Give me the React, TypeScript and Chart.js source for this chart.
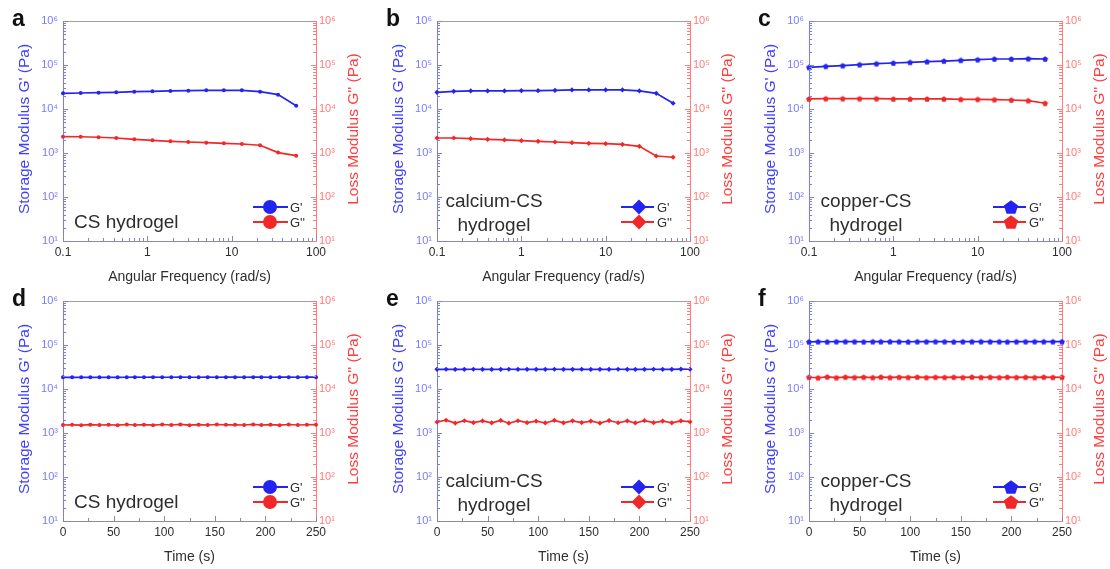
import React, { useEffect, useRef } from "react";
import { Chart, registerables } from "chart.js";

Chart.register(...registerables);

const FONT = "'Liberation Sans', Arial, Helvetica, sans-serif";
const BLUE = "#2424f2";
const RED = "#f22828";
const BLUE_AX = "#7a7aff";
const RED_AX = "#ff7a7a";
const BLUE_TITLE = "#3e3eff";
const RED_TITLE = "#ff3e3e";
const TEXT = "#2e2e2e";

// ---------- data ----------
const freqA = [0.1, 0.162, 0.264, 0.428, 0.7, 1.15, 1.88, 3.06, 5.0, 8.07, 13.2, 21.7, 35.5, 58.2];
const gPrimeA = [22700, 23100, 23500, 23900, 24800, 25200, 25700, 26100, 26600, 26600, 26600, 24800, 21200, 11900];
const gDoubleA = [2350, 2340, 2280, 2190, 2050, 1940, 1840, 1780, 1720, 1660, 1600, 1500, 1020, 870];

const freqBC = [0.1, 0.158, 0.251, 0.398, 0.631, 1, 1.58, 2.51, 3.98, 6.31, 10, 15.8, 25.1, 39.8, 63.1];
const gPrimeB = [23900, 25200, 25700, 25700, 25700, 26100, 26100, 26600, 27100, 27100, 27100, 27100, 25700, 22700, 13500];
const gDoubleB = [2190, 2190, 2120, 2050, 1980, 1910, 1840, 1780, 1720, 1660, 1630, 1570, 1420, 855, 800];
const gPrimeC = [88500, 93300, 96600, 101800, 107000, 111000, 115000, 119000, 123000, 128000, 132000, 137000, 137000, 139000, 137000];
const gDoubleC = [16900, 17200, 17200, 17200, 17200, 16900, 16900, 16900, 16900, 16600, 16600, 16300, 16000, 15500, 13500];

const timeS = [0, 9, 18, 27, 36, 45, 54, 63, 71, 80, 89, 98, 107, 116, 125, 134, 143, 152, 161, 170, 179, 188, 196, 205, 214, 223, 232, 241, 250];
const gPrimeD = [18400, 18500, 18400, 18500, 18400, 18500, 18400, 18500, 18600, 18500, 18600, 18500, 18500, 18600, 18500, 18500, 18600, 18500, 18600, 18600, 18500, 18600, 18600, 18500, 18600, 18600, 18500, 18600, 18600];
const gDoubleD = [1520, 1530, 1510, 1550, 1520, 1540, 1510, 1560, 1520, 1550, 1510, 1560, 1520, 1570, 1510, 1550, 1520, 1560, 1530, 1540, 1520, 1570, 1520, 1550, 1510, 1560, 1520, 1540, 1550];
const gPrimeE = [28000, 28100, 27900, 28000, 28100, 28000, 27900, 28000, 28100, 28000, 28000, 27900, 28000, 28100, 28000, 28000, 28100, 27900, 28000, 28000, 28100, 28000, 27900, 28000, 28100, 28000, 28000, 28200, 28100];
const gDoubleE = [1780, 1950, 1680, 1900, 1720, 1880, 1700, 1930, 1670, 1900, 1720, 1860, 1690, 1940, 1700, 1890, 1730, 1870, 1680, 1920, 1710, 1880, 1690, 1910, 1720, 1870, 1700, 1890, 1800];
const gPrimeF = [118000, 119000, 118500, 119000, 119500, 119000, 118500, 119000, 119000, 119500, 119000, 118500, 119000, 119000, 119500, 119000, 118500, 119000, 119000, 119500, 119000, 119000, 118500, 119000, 119000, 119500, 119000, 119000, 119000];
const gDoubleF = [18500, 18000, 18900, 18100, 18700, 18300, 18600, 18200, 18700, 18300, 18600, 18400, 18700, 18300, 18600, 18400, 18600, 18300, 18700, 18400, 18600, 18300, 18700, 18400, 18600, 18300, 18700, 18400, 18600];

// ---------- ticks ----------
const yTickValues = [10, 100, 1000, 10000, 100000, 1000000];
const yTickLabels = ["10\u00b9", "10\u00b2", "10\u00b3", "10\u2074", "10\u2075", "10\u2076"];
const freqTickValues = [0.1, 1, 10, 100];
const freqTickLabels = ["0.1", "1", "10", "100"];
const freqMinorTicks = [0.2, 0.3, 0.4, 0.5, 0.6, 0.7, 0.8, 0.9, 2, 3, 4, 5, 6, 7, 8, 9, 20, 30, 40, 50, 60, 70, 80, 90];
const timeTickValues = [0, 50, 100, 150, 200, 250];
const timeTickLabels = ["0", "50", "100", "150", "200", "250"];
const timeMinorTicks = [25, 75, 125, 175, 225];

const PLOT_W = 253;
const PLOT_H = 220;
const AX_L = 63;
const AX_R = 55;
const PAD_T = 20;
const AX_B = 45;
const CW = PLOT_W + AX_L + AX_R;
const CH = PLOT_H + PAD_T + AX_B;

type Shape = "circle" | "diamond" | "pentagon";

function markerPath(ctx: CanvasRenderingContext2D, shape: Shape, x: number, y: number, r: number) {
  ctx.beginPath();
  if (shape === "circle") {
    ctx.arc(x, y, r, 0, Math.PI * 2);
  } else if (shape === "diamond") {
    ctx.moveTo(x, y - r);
    ctx.lineTo(x + r, y);
    ctx.lineTo(x, y + r);
    ctx.lineTo(x - r, y);
    ctx.closePath();
  } else {
    for (let k = 0; k < 5; k++) {
      const a = -Math.PI / 2 + (k * 2 * Math.PI) / 5;
      const px = x + r * Math.cos(a);
      const py = y + r * Math.sin(a) + r * 0.1;
      if (k === 0) ctx.moveTo(px, py);
      else ctx.lineTo(px, py);
    }
    ctx.closePath();
  }
}

function pentagonImage(color: string, r: number) {
  const c = document.createElement("canvas");
  const s = Math.ceil(2 * r + 2);
  c.width = s;
  c.height = s;
  const ctx = c.getContext("2d")!;
  ctx.fillStyle = color;
  markerPath(ctx, "pentagon", s / 2, s / 2, r);
  ctx.fill();
  return c;
}

const decorPlugin = {
  id: "decor",
  afterDraw(chart: any) {
    const o = chart.options.plugins.decor;
    const { ctx, chartArea: a } = chart;
    const sx = chart.scales.x;
    const sy = chart.scales.y;
    ctx.save();
    ctx.lineWidth = 1;
    // top frame line
    ctx.strokeStyle = "#a0a0a0";
    ctx.beginPath();
    ctx.moveTo(a.left, a.top + 0.5);
    ctx.lineTo(a.right, a.top + 0.5);
    ctx.stroke();
    // inward y ticks
    for (let e = 1; e <= 6; e++) {
      const kmax = e === 6 ? 1 : 9;
      for (let k = 1; k <= kmax; k++) {
        const v = k * Math.pow(10, e);
        const len = k === 1 ? 5 : 3;
        const py = Math.round(sy.getPixelForValue(v)) + 0.5;
        ctx.strokeStyle = BLUE_AX;
        ctx.beginPath();
        ctx.moveTo(a.left, py);
        ctx.lineTo(a.left + len, py);
        ctx.stroke();
        ctx.strokeStyle = RED_AX;
        ctx.beginPath();
        ctx.moveTo(a.right, py);
        ctx.lineTo(a.right - len, py);
        ctx.stroke();
      }
    }
    // inward x ticks
    ctx.strokeStyle = "#8a8aa8";
    const xt = (vals: number[], len: number) => {
      vals.forEach((v) => {
        const px = Math.round(sx.getPixelForValue(v)) + 0.5;
        ctx.beginPath();
        ctx.moveTo(px, a.bottom);
        ctx.lineTo(px, a.bottom - len);
        ctx.stroke();
      });
    };
    xt(o.xMajor, 5);
    xt(o.xMinor, 3);

    // y titles (reading bottom to top)
    const cy = (a.top + a.bottom) / 2 - 2;
    ctx.font = `15.5px ${FONT}`;
    ctx.textAlign = "center";
    ctx.textBaseline = "middle";
    ctx.fillStyle = BLUE_TITLE;
    ctx.save();
    ctx.translate(a.left - 38, cy);
    ctx.rotate(-Math.PI / 2);
    ctx.fillText("Storage Modulus G' (Pa)", 0, 0);
    ctx.restore();
    ctx.fillStyle = RED_TITLE;
    ctx.save();
    ctx.translate(a.right + 38, cy);
    ctx.rotate(-Math.PI / 2);
    ctx.fillText("Loss Modulus G'' (Pa)", 0, 0);
    ctx.restore();

    // legend
    const L = o.legend;
    chart.data.datasets.forEach((ds: any, i: number) => {
      const y = a.bottom - (i === 0 ? 34 : 19);
      ctx.strokeStyle = ds.borderColor;
      ctx.lineWidth = 2;
      ctx.beginPath();
      ctx.moveTo(a.right - L.lineL, y);
      ctx.lineTo(a.right - L.lineR, y);
      ctx.stroke();
      ctx.fillStyle = ds.borderColor;
      markerPath(ctx, o.shape, a.right - L.mx, y, o.legR);
      ctx.fill();
      ctx.fillStyle = TEXT;
      ctx.font = `13px ${FONT}`;
      ctx.textAlign = "left";
      ctx.textBaseline = "middle";
      ctx.fillText(ds.label, a.right - L.tx, y + 1);
    });
    ctx.restore();
  },
};

type Spec = {
  letter: string;
  L: number;
  T: number;
  xs: number[];
  gp: number[];
  gpp: number[];
  log: boolean;
  shape: Shape;
  ptR: number;
  legR: number;
  legend: { lineL: number; lineR: number; mx: number; tx: number };
  note: string[];
};

const legA = { lineL: 63, lineR: 28, mx: 46, tx: 26 };
const legB = { lineL: 69, lineR: 36, mx: 51, tx: 33 };

const specs: Spec[] = [
  { letter: "a", L: 63, T: 21, xs: freqA, gp: gPrimeA, gpp: gDoubleA, log: true, shape: "circle", ptR: 2, legR: 7, legend: legA, note: ["CS hydrogel"] },
  { letter: "b", L: 437, T: 21, xs: freqBC, gp: gPrimeB, gpp: gDoubleB, log: true, shape: "diamond", ptR: 2.6, legR: 7.5, legend: legB, note: ["calcium-CS", "hydrogel"] },
  { letter: "c", L: 809, T: 21, xs: freqBC, gp: gPrimeC, gpp: gDoubleC, log: true, shape: "pentagon", ptR: 3, legR: 7.5, legend: legB, note: ["copper-CS", "hydrogel"] },
  { letter: "d", L: 63, T: 301, xs: timeS, gp: gPrimeD, gpp: gDoubleD, log: false, shape: "circle", ptR: 2, legR: 7, legend: legA, note: ["CS hydrogel"] },
  { letter: "e", L: 437, T: 301, xs: timeS, gp: gPrimeE, gpp: gDoubleE, log: false, shape: "diamond", ptR: 2.6, legR: 7.5, legend: legB, note: ["calcium-CS", "hydrogel"] },
  { letter: "f", L: 809, T: 301, xs: timeS, gp: gPrimeF, gpp: gDoubleF, log: false, shape: "pentagon", ptR: 3, legR: 7.5, legend: legB, note: ["copper-CS", "hydrogel"] },
];

function yAxis(position: "left" | "right", lineColor: string, labelColor: string, width: number) {
  return {
    type: "logarithmic",
    position,
    min: 10,
    max: 1000000,
    grid: { display: false, drawTicks: false, drawOnChartArea: false },
    border: { display: true, color: lineColor, width: 1 },
    ticks: {
      color: labelColor,
      font: { size: 11, family: FONT },
      padding: position === "left" ? 5 : 3,
      autoSkip: false,
      callback: (v: any) => {
        const i = yTickValues.indexOf(Number(v));
        return i >= 0 ? yTickLabels[i] : "";
      },
    },
    afterBuildTicks: (s: any) => {
      s.ticks = yTickValues.map((v) => ({ value: v }));
    },
    title: { display: false },
    afterFit: (s: any) => {
      s.width = width;
    },
  };
}

function Panel({ spec }: { spec: Spec }) {
  const ref = useRef<HTMLCanvasElement>(null);
  useEffect(() => {
    const canvas = ref.current!;
    const ps = (color: string): any =>
      spec.shape === "circle" ? "circle" : spec.shape === "diamond" ? "rectRot" : pentagonImage(color, spec.ptR);
    const mk = (label: string, vals: number[], color: string, axis: string) => ({
      label,
      data: spec.xs.map((x, i) => ({ x, y: vals[i] })),
      borderColor: color,
      backgroundColor: color,
      borderWidth: 1.7,
      pointStyle: ps(color),
      pointRadius: spec.ptR,
      pointHoverRadius: spec.ptR,
      pointBorderWidth: 0,
      yAxisID: axis,
      tension: 0,
      clip: false,
    });
    const xTickVals = spec.log ? freqTickValues : timeTickValues;
    const xTickLabs = spec.log ? freqTickLabels : timeTickLabels;
    const chart = new Chart(canvas, {
      type: "line",
      data: {
        datasets: [mk("G'", spec.gp, BLUE, "y"), mk("G''", spec.gpp, RED, "y2")] as any,
      },
      options: {
        responsive: false,
        maintainAspectRatio: false,
        animation: false,
        events: [],
        layout: { padding: { top: PAD_T, left: 0, right: 0, bottom: 0 } },
        plugins: {
          legend: { display: false },
          tooltip: { enabled: false },
          decor: {
            xMajor: xTickVals,
            xMinor: spec.log ? freqMinorTicks : timeMinorTicks,
            legend: spec.legend,
            shape: spec.shape,
            legR: spec.legR,
          },
        } as any,
        scales: {
          x: {
            type: spec.log ? "logarithmic" : "linear",
            position: "bottom",
            min: spec.log ? 0.1 : 0,
            max: spec.log ? 100 : 250,
            grid: { display: false, drawTicks: false },
            border: { display: true, color: "#8a8aa8", width: 1 },
            ticks: {
              color: TEXT,
              font: { size: 12, family: FONT },
              padding: 4,
              autoSkip: false,
              maxRotation: 0,
              callback: (v: any) => {
                const i = xTickVals.findIndex((t) => Math.abs(t - Number(v)) < 1e-9);
                return i >= 0 ? xTickLabs[i] : "";
              },
            },
            afterBuildTicks: (s: any) => {
              s.ticks = xTickVals.map((v) => ({ value: v }));
            },
            title: {
              display: true,
              text: spec.log ? "Angular Frequency (rad/s)" : "Time (s)",
              color: TEXT,
              font: { size: 14, family: FONT },
              padding: { top: 0, bottom: 0 },
            },
            afterFit: (s: any) => {
              s.height = AX_B;
            },
          },
          y: yAxis("left", BLUE_AX, BLUE_AX, AX_L),
          y2: yAxis("right", RED_AX, RED_AX, AX_R),
        } as any,
      },
      plugins: [decorPlugin as any],
    });
    return () => chart.destroy();
  }, [spec]);
  return (
    <canvas
      ref={ref}
      width={CW}
      height={CH}
      style={{ position: "absolute", left: spec.L - AX_L, top: spec.T - PAD_T, width: CW, height: CH }}
    />
  );
}

export default function App() {
  return (
    <div
      style={{
        position: "absolute",
        left: 0,
        top: 0,
        width: 1110,
        height: 569,
        overflow: "hidden",
        background: "#ffffff",
        fontFamily: FONT,
      }}
    >
      {specs.map((s) => (
        <Panel key={s.letter} spec={s} />
      ))}
      {specs.map((s) => (
        <div
          key={"l" + s.letter}
          style={{
            position: "absolute",
            left: s.L - 51,
            top: s.T - 14,
            fontSize: 23,
            lineHeight: "23px",
            fontWeight: "bold",
            color: "#111",
          }}
        >
          {s.letter}
        </div>
      ))}
      {specs.map((s) =>
        s.note.length === 1 ? (
          <div
            key={"n" + s.letter}
            style={{
              position: "absolute",
              left: s.L + 11,
              top: s.T + 200 - 9,
              fontSize: 19,
              lineHeight: "19px",
              color: TEXT,
              whiteSpace: "nowrap",
            }}
          >
            {s.note[0]}
          </div>
        ) : (
          s.note.map((line, j) => (
            <div
              key={"n" + s.letter + j}
              style={{
                position: "absolute",
                left: s.L + 57,
                top: s.T + 179 + j * 24 - 9,
                transform: "translateX(-50%)",
                fontSize: 19,
                lineHeight: "19px",
                color: TEXT,
                whiteSpace: "nowrap",
              }}
            >
              {line}
            </div>
          ))
        )
      )}
    </div>
  );
}
